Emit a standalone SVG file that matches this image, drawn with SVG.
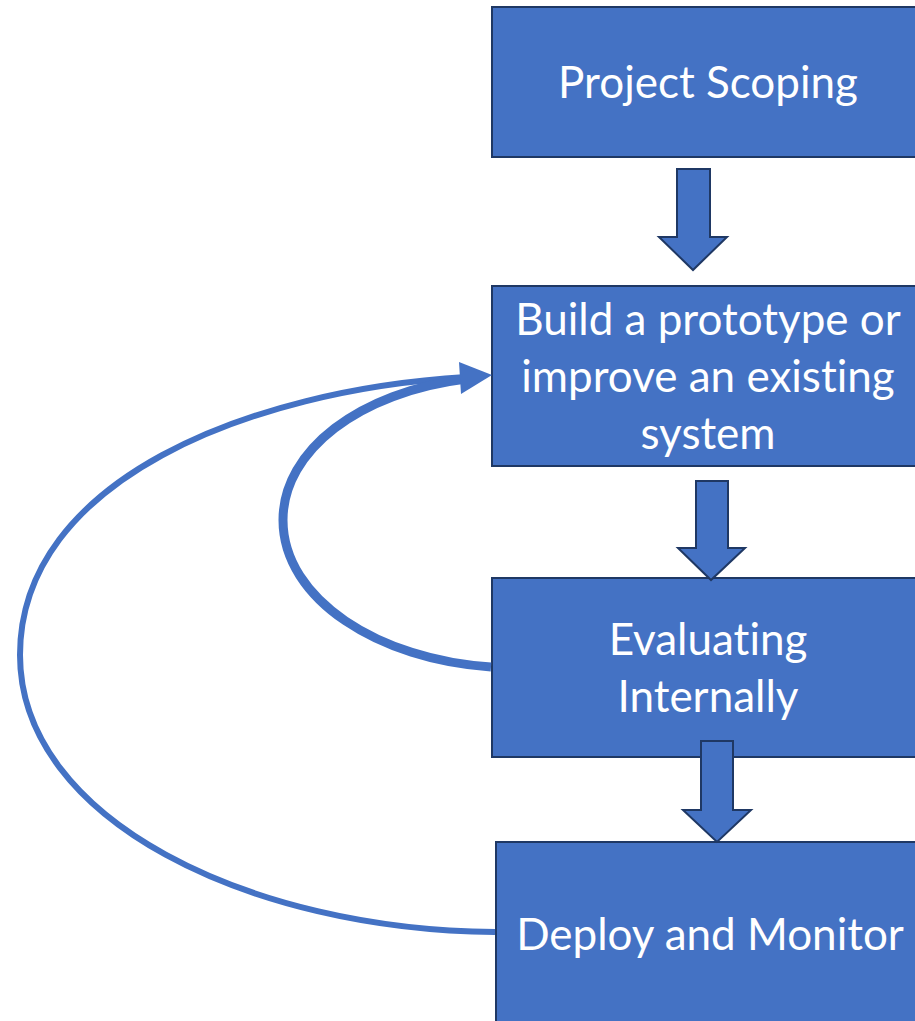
<svg xmlns="http://www.w3.org/2000/svg" width="915" height="1021" viewBox="0 0 915 1021">
<style>
.box{fill:#4472C4;stroke:#1F3864;stroke-width:2}
.lbl{fill:#ffffff;font-family:Lato,"Open Sans",sans-serif;font-size:44px;text-anchor:middle;font-variant-ligatures:none}
.down{fill:#4472C4;stroke:#1F3864;stroke-width:2;stroke-linejoin:miter}
.loop{fill:none;stroke:#4472C4}
</style>
<rect width="915" height="1021" fill="#ffffff"/>
<g id="n1">
<rect class="box" x="492" y="7" width="440" height="150"/>
<text class="lbl" x="708" y="98">Project Scoping</text>
</g>
<g id="n2">
<rect class="box" x="492" y="286" width="440" height="180"/>
<text class="lbl" x="708" y="335">Build a prototype or</text>
<text class="lbl" x="708" y="392">improve an existing</text>
<text class="lbl" x="708" y="449">system</text>
</g>
<g id="n3">
<rect class="box" x="492" y="578" width="440" height="179"/>
<text class="lbl" x="708" y="655">Evaluating</text>
<text class="lbl" x="708" y="712">Internally</text>
</g>
<g id="n4">
<rect class="box" x="496" y="842" width="440" height="200"/>
<text class="lbl" x="710" y="950">Deploy and Monitor</text>
</g>
<g id="connectors">
<polygon class="down" points="677,169 710,169 710,237 727,237 693,270 659,237 677,237"/>
<polygon class="down" points="696,481 728,481 728,548 745,548 711,580 678,548 696,548"/>
<polygon class="down" points="701,741 733,741 733,810 751,810 717,842 683,810 701,810"/>
<path class="loop" stroke-width="6" d="M 495 932 C 250 930, 20 820, 20 655 C 20 480, 250 390, 466 377"/>
<path class="loop" stroke-width="9" d="M 491 667 C 380 660, 283 600, 283 520 C 283 450, 360 392, 466 379"/>
<polygon fill="#4472C4" points="492,375 459,362 461,394"/>
</g>
</svg>
